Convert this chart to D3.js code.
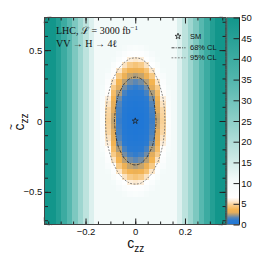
<!DOCTYPE html>
<html>
<head>
<meta charset="utf-8">
<title>c_zz vs c~_zz scan</title>
<script src="https://cdn.jsdelivr.net/npm/d3@7"></script>
<style>
  body { margin: 0; background: #fff; }
  svg { display: block; }
</style>
</head>
<body>
<svg id="chart"></svg>
<script>
// ranges of the scan
const xRange = [-0.365, 0.365];
const yRange = [-0.73, 0.73];
const zRange = [0, 50];

const xTicks = [-0.2, 0, 0.2];
const yTicks = [-0.5, 0, 0.5];
const zTicks = [0, 5, 10, 15, 20, 25, 30, 35, 40, 45, 50];

const clLevels = [2.3, 5.99];
const clLabels = ["68% CL", "95% CL"];
const smPoint = [0, 0];

// -2 delta lnL, outer c_zz bins (same in every row), listed from the centre outwards
const stripeCols = [10.8, 13.8, 18.1, 22.6, 27.8, 34.1, 40.1, 46, 51.5, 56.9];

// -2 delta lnL, 13 central c_zz bins for each of the 37 c~_zz rows, top row first
const coreRows = [
  [10.8, 10.8, 10.8, 10.8, 10.8, 10.8, 10.8, 10.8, 10.8, 10.8, 10.8, 10.8, 10.8],
  [10.8, 10.8, 10.8, 10.8, 10.8, 10.8, 10.8, 10.8, 10.8, 10.8, 10.8, 10.8, 10.8],
  [10.8, 10.8, 10.8, 10.8, 10.8, 10.8, 10.8, 10.8, 10.8, 10.8, 10.8, 10.8, 10.8],
  [10.8, 10.8, 10.8, 10.8, 10.8, 10.8, 10.8, 10.8, 10.8, 10.8, 10.8, 10.8, 10.8],
  [10.8, 10.8, 10.8, 10.8, 10.8, 10.8, 10.6, 10.8, 10.8, 10.8, 10.8, 10.8, 10.8],
  [10.8, 10.8, 10.8, 10.8, 9.9, 9, 8.7, 9, 9.9, 10.8, 10.8, 10.8, 10.8],
  [10.8, 10.8, 10.8, 9.7, 8.2, 7.3, 7, 7.3, 8.2, 9.7, 10.8, 10.8, 10.8],
  [10.8, 10.8, 10.2, 8.1, 6.7, 5.8, 5.6, 5.8, 6.7, 8.1, 10.2, 10.8, 10.8],
  [10.8, 10.8, 8.7, 6.7, 5.4, 4.6, 4.3, 4.6, 5.4, 6.7, 8.7, 10.8, 10.8],
  [10.8, 10.2, 7.5, 5.5, 4.2, 3.5, 3.3, 3.5, 4.2, 5.5, 7.5, 10.2, 10.8],
  [10.8, 9, 6.4, 4.5, 3.3, 2.6, 2.4, 2.6, 3.3, 4.5, 6.4, 9, 10.8],
  [10.8, 7.9, 5.4, 3.6, 2.5, 1.9, 1.7, 1.9, 2.5, 3.6, 5.4, 7.9, 10.8],
  [10.4, 7.1, 4.6, 2.9, 1.9, 1.3, 1.1, 1.3, 1.9, 2.9, 4.6, 7.1, 10.4],
  [9.6, 6.4, 4, 2.4, 1.4, 0.8, 0.7, 0.8, 1.4, 2.4, 4, 6.4, 9.6],
  [8.9, 5.8, 3.5, 1.9, 1, 0.5, 0.4, 0.5, 1, 1.9, 3.5, 5.8, 8.9],
  [8.5, 5.4, 3.1, 1.6, 0.7, 0.3, 0.2, 0.3, 0.7, 1.6, 3.1, 5.4, 8.5],
  [8.1, 5, 2.9, 1.4, 0.5, 0.2, 0.1, 0.2, 0.5, 1.4, 2.9, 5, 8.1],
  [7.9, 4.9, 2.7, 1.3, 0.4, 0.1, 0, 0.1, 0.4, 1.3, 2.7, 4.9, 7.9],
  [7.8, 4.8, 2.6, 1.2, 0.4, 0.1, 0, 0.1, 0.4, 1.2, 2.6, 4.8, 7.8],
  [7.9, 4.9, 2.7, 1.3, 0.4, 0.1, 0, 0.1, 0.4, 1.3, 2.7, 4.9, 7.9],
  [8.1, 5, 2.9, 1.4, 0.5, 0.2, 0.1, 0.2, 0.5, 1.4, 2.9, 5, 8.1],
  [8.5, 5.4, 3.1, 1.6, 0.7, 0.3, 0.2, 0.3, 0.7, 1.6, 3.1, 5.4, 8.5],
  [8.9, 5.8, 3.5, 1.9, 1, 0.5, 0.4, 0.5, 1, 1.9, 3.5, 5.8, 8.9],
  [9.6, 6.4, 4, 2.4, 1.4, 0.8, 0.7, 0.8, 1.4, 2.4, 4, 6.4, 9.6],
  [10.4, 7.1, 4.6, 2.9, 1.9, 1.3, 1.1, 1.3, 1.9, 2.9, 4.6, 7.1, 10.4],
  [10.8, 7.9, 5.4, 3.6, 2.5, 1.9, 1.7, 1.9, 2.5, 3.6, 5.4, 7.9, 10.8],
  [10.8, 9, 6.4, 4.5, 3.3, 2.6, 2.4, 2.6, 3.3, 4.5, 6.4, 9, 10.8],
  [10.8, 10.2, 7.5, 5.5, 4.2, 3.5, 3.3, 3.5, 4.2, 5.5, 7.5, 10.2, 10.8],
  [10.8, 10.8, 8.7, 6.7, 5.4, 4.6, 4.3, 4.6, 5.4, 6.7, 8.7, 10.8, 10.8],
  [10.8, 10.8, 10.2, 8.1, 6.7, 5.8, 5.6, 5.8, 6.7, 8.1, 10.2, 10.8, 10.8],
  [10.8, 10.8, 10.8, 9.7, 8.2, 7.3, 7, 7.3, 8.2, 9.7, 10.8, 10.8, 10.8],
  [10.8, 10.8, 10.8, 10.8, 9.9, 9, 8.7, 9, 9.9, 10.8, 10.8, 10.8, 10.8],
  [10.8, 10.8, 10.8, 10.8, 10.8, 10.8, 10.6, 10.8, 10.8, 10.8, 10.8, 10.8, 10.8],
  [10.8, 10.8, 10.8, 10.8, 10.8, 10.8, 10.8, 10.8, 10.8, 10.8, 10.8, 10.8, 10.8],
  [10.8, 10.8, 10.8, 10.8, 10.8, 10.8, 10.8, 10.8, 10.8, 10.8, 10.8, 10.8, 10.8],
  [10.8, 10.8, 10.8, 10.8, 10.8, 10.8, 10.8, 10.8, 10.8, 10.8, 10.8, 10.8, 10.8],
  [10.8, 10.8, 10.8, 10.8, 10.8, 10.8, 10.8, 10.8, 10.8, 10.8, 10.8, 10.8, 10.8]
];

// full table of bins, left to right
const scan = coreRows.map(r => [...stripeCols.slice().reverse(), ...r, ...stripeCols]);

// palette: blue -> orange -> white -> teal
const palette = [
  [0, "#1f77d6"], [1.0, "#2b7bd1"], [1.7, "#5b87b5"], [2.3, "#a39a82"],
  [2.9, "#e3ad5c"], [3.6, "#f4b451"], [4.6, "#f7cb89"], [5.6, "#fce9cf"],
  [6.5, "#ffffff"], [11, "#f2faf9"], [16, "#cbe9e5"], [25, "#8ecfc8"],
  [35, "#52b6ad"], [50, "#12968b"]
];

const width = 266, height = 258;
const sans = "'Liberation Sans', Arial, Helvetica, sans-serif";
const serif = "'Liberation Serif', 'Times New Roman', serif";

const x = d3.scaleLinear().domain(xRange).range([44.5, 226]);
const y = d3.scaleLinear().domain(yRange).range([224.5, 17.5]);
const z = d3.scaleLinear().domain(zRange).range([224.5, 17.5]);
const color = d3.scaleLinear()
  .domain(palette.map(d => d[0]))
  .range(palette.map(d => d[1]))
  .clamp(true);

const nx = scan[0].length, ny = scan.length;
const col = d3.scaleBand().domain(d3.range(nx)).range(x.range());
const row = d3.scaleBand().domain(d3.range(ny)).range([y(yRange[1]), y(yRange[0])]);

const svg = d3.select("#chart")
  .attr("width", width)
  .attr("height", height);

// heat map cells
svg.append("g")
  .attr("shape-rendering", "crispEdges")
  .selectAll("g")
  .data(scan)
  .join("g")
  .each(function (vals, j) {
    d3.select(this).selectAll("rect")
      .data(vals)
      .join("rect")
      .attr("x", (d, i) => col(i))
      .attr("y", row(j))
      .attr("width", col.bandwidth() + 0.6)
      .attr("height", row.bandwidth() + 0.6)
      .attr("fill", d => color(d));
  });

// confidence contours
const gx = d3.scaleLinear().domain([0, nx]).range(x.range());
const gy = d3.scaleLinear().domain([0, ny]).range(row.range());
const contours = d3.contours().size([nx, ny]).thresholds(clLevels)(scan.flat());
const ring = d3.line().curve(d3.curveCatmullRomClosed.alpha(0.5));
const clStyle = [
  { stroke: "#333", width: 0.9, dash: "3,1.2,1,1.2" },
  { stroke: "#666", width: 0.8, dash: "1.8,1.4" }
];

svg.append("g")
  .attr("fill", "none")
  .selectAll("path")
  .data(contours)
  .join("path")
  .attr("d", c => c.coordinates.map(poly => poly.map(r =>
    ring(r.slice(0, -1).map(p => [gx(p[0]), gy(p[1])]))).join("")).join(""))
  .attr("stroke", (c, i) => clStyle[i].stroke)
  .attr("stroke-width", (c, i) => clStyle[i].width)
  .attr("stroke-dasharray", (c, i) => clStyle[i].dash);

// SM point
const star = d3.symbol().type(d3.symbolStar).size(11);
svg.append("path")
  .attr("d", star())
  .attr("transform", `translate(${x(smPoint[0])},${y(smPoint[1])})`)
  .attr("fill", "none")
  .attr("stroke", "#222")
  .attr("stroke-width", 0.8);

// axes, ticks inside on all four sides
const fmt = d => d === 0 ? "0" : d3.format(".1f")(d);
const xMinor = d3.range(-7, 8).map(k => k * 0.05);
const yMinor = d3.range(-7, 8).map(k => k * 0.1);

function styleAxis(g) {
  g.select(".domain").remove();
  g.selectAll("line").attr("stroke", "#222");
  g.attr("font-family", sans).attr("font-size", 9.5);
  g.selectAll("text").attr("fill", "#111");
}

const y0 = y.range()[0], y1 = y.range()[1];
const x0 = x.range()[0], x1 = x.range()[1];

svg.append("g").attr("transform", `translate(0,${y0})`)
  .call(d3.axisBottom(x).tickValues(xMinor).tickSize(-3).tickFormat("")).call(styleAxis);
svg.append("g").attr("transform", `translate(0,${y0})`)
  .call(d3.axisBottom(x).tickValues(xTicks).tickSize(-6).tickPadding(3.3).tickFormat(fmt)).call(styleAxis);
svg.append("g").attr("transform", `translate(0,${y1})`)
  .call(d3.axisTop(x).tickValues(xMinor).tickSize(-3).tickFormat("")).call(styleAxis);
svg.append("g").attr("transform", `translate(0,${y1})`)
  .call(d3.axisTop(x).tickValues(xTicks).tickSize(-6).tickFormat("")).call(styleAxis);

svg.append("g").attr("transform", `translate(${x0},0)`)
  .call(d3.axisLeft(y).tickValues(yMinor).tickSize(-3.5).tickFormat("")).call(styleAxis);
svg.append("g").attr("transform", `translate(${x0},0)`)
  .call(d3.axisLeft(y).tickValues(yTicks).tickSize(-6.5).tickPadding(2.2).tickFormat(fmt)).call(styleAxis);
svg.append("g").attr("transform", `translate(${x1},0)`)
  .call(d3.axisRight(y).tickValues(yMinor).tickSize(-3.5).tickFormat("")).call(styleAxis);
svg.append("g").attr("transform", `translate(${x1},0)`)
  .call(d3.axisRight(y).tickValues(yTicks).tickSize(-6.5).tickFormat("")).call(styleAxis);

// frame
svg.append("rect")
  .attr("x", x0).attr("y", y1)
  .attr("width", x1 - x0).attr("height", y0 - y1)
  .attr("fill", "none")
  .attr("stroke", "#444")
  .attr("stroke-width", 1);

// colour bar
const grad = svg.append("defs").append("linearGradient")
  .attr("id", "zgrad")
  .attr("x1", 0).attr("y1", 1).attr("x2", 0).attr("y2", 0);
grad.selectAll("stop")
  .data(palette)
  .join("stop")
  .attr("offset", d => (d[0] - zRange[0]) / (zRange[1] - zRange[0]))
  .attr("stop-color", d => d[1]);

const barX = 227, barW = 12.5;
svg.append("rect")
  .attr("x", barX).attr("y", z(zRange[1]))
  .attr("width", barW).attr("height", z(zRange[0]) - z(zRange[1]))
  .attr("fill", "url(#zgrad)")
  .attr("stroke", "#666")
  .attr("stroke-width", 0.8);

svg.append("g").attr("transform", `translate(${barX + barW},0)`)
  .call(d3.axisRight(z).tickValues(zTicks).tickSize(-6).tickPadding(1.8))
  .call(styleAxis)
  .call(g => g.append("line")
    .attr("y1", z.range()[0]).attr("y2", z.range()[1])
    .attr("stroke", "#222"));

// axis titles
svg.append("text")
  .attr("x", 127.3).attr("y", 248)
  .attr("font-family", sans).attr("font-size", 14).attr("fill", "#111")
  .text("c")
  .append("tspan").attr("dy", 3.5).attr("font-size", 10).text("zz");

const yt = svg.append("g").attr("transform", "translate(24,121) rotate(-90)");
yt.append("text")
  .attr("x", -9.5).attr("y", 0)
  .attr("font-family", sans).attr("font-size", 14).attr("fill", "#111")
  .text("c")
  .append("tspan").attr("dy", 3.5).attr("font-size", 10).text("zz");
yt.append("text")
  .attr("x", -6).attr("y", -9.5)
  .attr("text-anchor", "middle")
  .attr("font-family", sans).attr("font-size", 10).attr("fill", "#111")
  .text("~");

// labels top left
const lhc = svg.append("text")
  .attr("x", 56).attr("y", 33.5)
  .attr("font-family", serif).attr("font-size", 10).attr("fill", "#111");
lhc.append("tspan").text("LHC, ");
lhc.append("tspan").text("ℒ");
lhc.append("tspan").text(" = 3000 fb");
lhc.append("tspan").attr("dy", -4).attr("font-size", 7).text("−1");

svg.append("text")
  .attr("x", 56).attr("y", 47)
  .attr("font-family", serif).attr("font-size", 10).attr("fill", "#111")
  .text("VV → H → 4ℓ");

// legend
const legend = svg.append("g")
  .attr("font-family", sans).attr("font-size", 7.5).attr("fill", "#111");
legend.append("path")
  .attr("d", star())
  .attr("transform", "translate(178,36.3)")
  .attr("fill", "none").attr("stroke", "#222").attr("stroke-width", 0.8);
legend.append("text").attr("x", 190).attr("y", 38.6).text("SM");
clLabels.forEach((lab, i) => {
  const ly = 47.8 + i * 10;
  legend.append("line")
    .attr("x1", 171.5).attr("x2", 185.5).attr("y1", ly).attr("y2", ly)
    .attr("stroke", clStyle[i].stroke)
    .attr("stroke-width", clStyle[i].width)
    .attr("stroke-dasharray", clStyle[i].dash);
  legend.append("text").attr("x", 190).attr("y", ly + 2.4).text(lab);
});
</script>
</body>
</html>
